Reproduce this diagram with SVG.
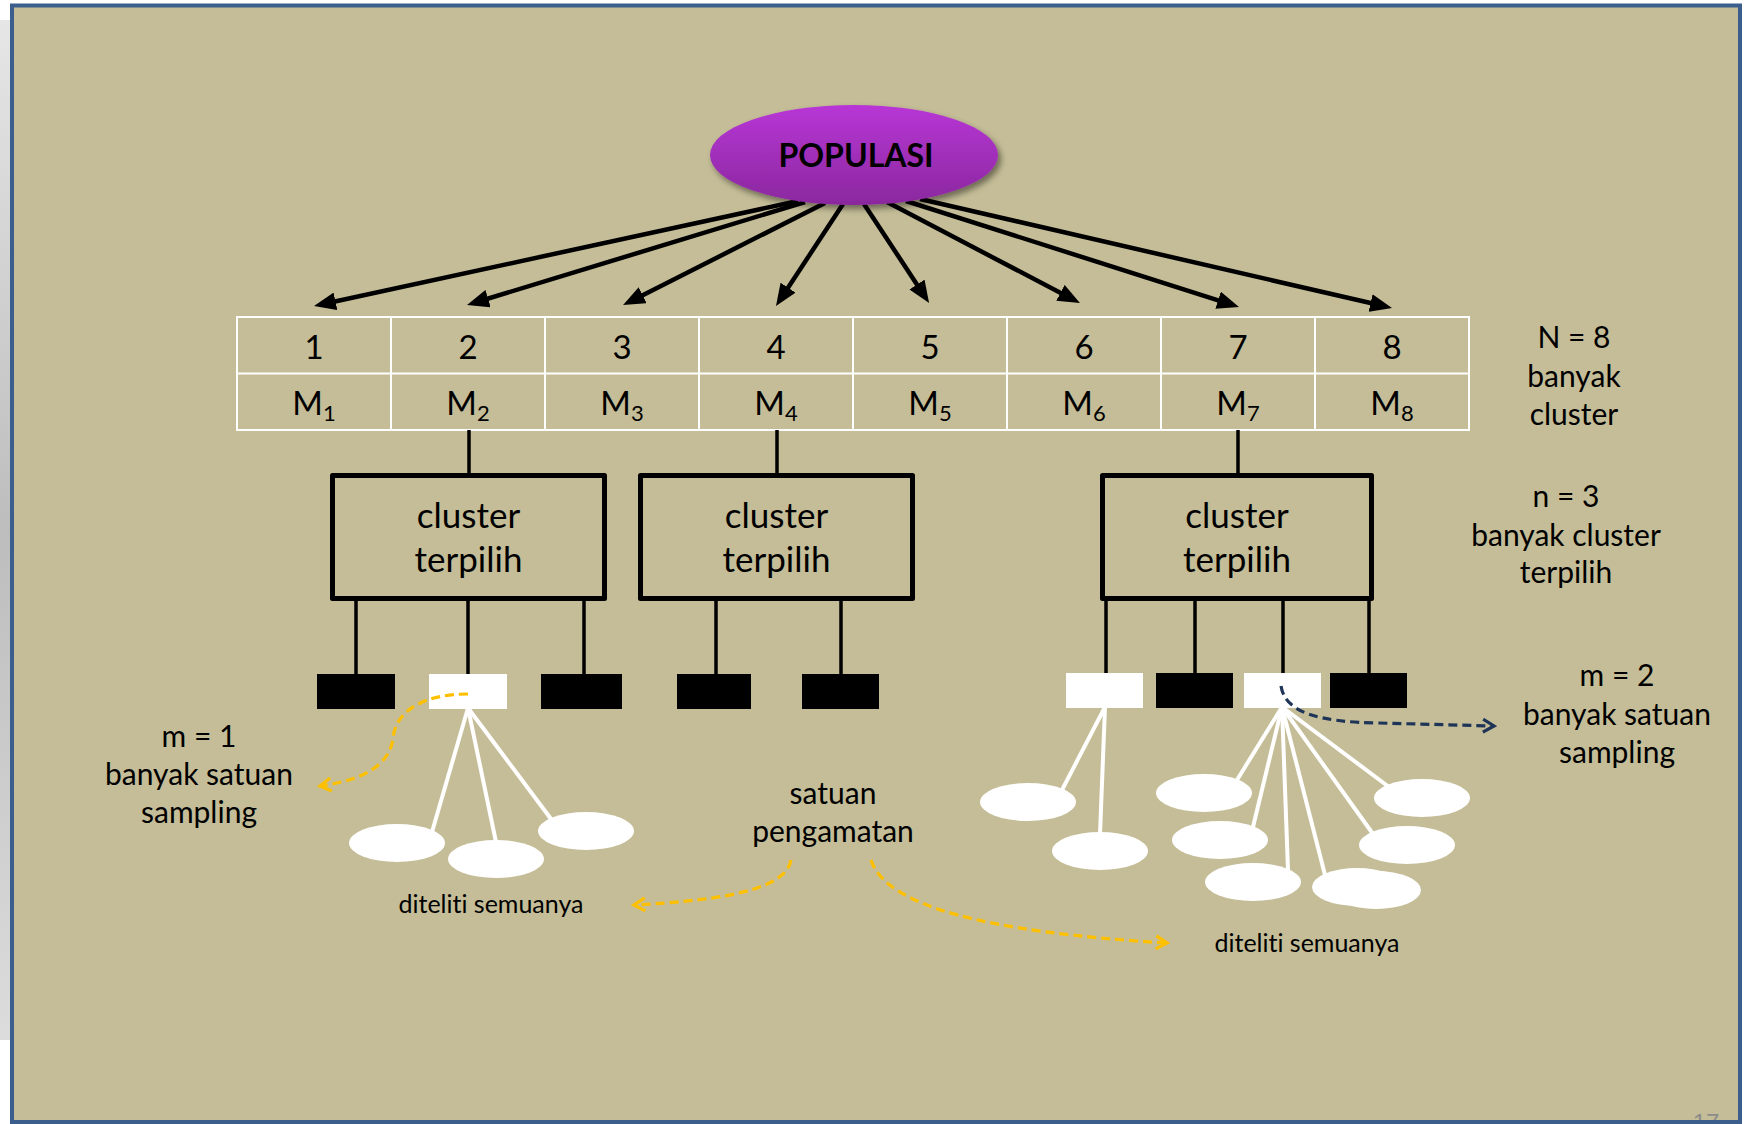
<svg xmlns="http://www.w3.org/2000/svg" width="1750" height="1124" viewBox="0 0 1750 1124">
  <defs>
    <linearGradient id="purple" x1="0" y1="0" x2="0" y2="1">
      <stop offset="0" stop-color="#B836D6"/>
      <stop offset="1" stop-color="#8A289E"/>
    </linearGradient>
    <linearGradient id="side" x1="0" y1="0" x2="0" y2="1">
      <stop offset="0" stop-color="#e6e6e6"/>
      <stop offset="0.5" stop-color="#bdbdbd"/>
      <stop offset="1" stop-color="#dcdcdc"/>
    </linearGradient>
    <filter id="shadow" x="-20%" y="-20%" width="140%" height="150%">
      <feDropShadow dx="3" dy="4" stdDeviation="3" flood-color="#000" flood-opacity="0.45"/>
    </filter>
    <marker id="ah" viewBox="0 0 22 18" refX="10" refY="9" markerWidth="22" markerHeight="18" markerUnits="userSpaceOnUse" orient="auto">
      <path d="M0,0 L22,9 L0,18 z" fill="#000"/>
    </marker>
    <marker id="ahOrange" viewBox="0 0 16 16" refX="13" refY="8" markerWidth="16" markerHeight="16" markerUnits="userSpaceOnUse" orient="auto">
      <path d="M2,1.5 L13,8 L2,14.5" fill="none" stroke="#FFC000" stroke-width="3.2"/>
    </marker>
    <marker id="ahNavy" viewBox="0 0 16 16" refX="13" refY="8" markerWidth="16" markerHeight="16" markerUnits="userSpaceOnUse" orient="auto">
      <path d="M2,1.5 L13,8 L2,14.5" fill="none" stroke="#1F3558" stroke-width="3.2"/>
    </marker>
    <style>
      .t { font-family: Lato, "Open Sans", "Liberation Sans", sans-serif; fill: #000; text-anchor: middle; font-variant-ligatures: none; }
      .cell { font-size: 33px; }
      .sub { font-size: 22px; }
      .side { font-size: 30px; }
      .box { font-size: 35px; }
      .small { font-size: 25px; }
      .mid { font-size: 30px; }
      .cbox { fill: none; stroke: #000; stroke-width: 5; stroke-linejoin: round; }
      .sqB { fill: #000; }
      .sqW { fill: #fff; }
      .obs { fill: #fff; }
      .arrow { stroke: #000; stroke-width: 4.5; fill: none; }
      .link { stroke: #000; stroke-width: 3.5; fill: none; }
      .wlink { stroke: #fff; stroke-width: 4; fill: none; }
      .dashO { stroke: #FFC000; stroke-width: 3.2; fill: none; stroke-dasharray: 9 5; }
      .dashN { stroke: #1F3558; stroke-width: 3.2; fill: none; stroke-dasharray: 9 5; }
      .grid { stroke: #fff; stroke-width: 2; fill: none; }
    </style>
  </defs>

  <!-- page background -->
  <rect x="0" y="0" width="1750" height="1124" fill="#ffffff"/>
  <rect x="0" y="20" width="11" height="1020" fill="url(#side)"/>
  <rect x="12" y="5.5" width="1728" height="1116.5" fill="#C4BD97"/>

  <!-- table of clusters -->
  <g id="table">
    <rect class="grid" x="237" y="317" width="1232" height="113"/>
    <line class="grid" x1="237" y1="373.5" x2="1469" y2="373.5" stroke-width="2.5"/>
    <line class="grid" x1="391" y1="317" x2="391" y2="430"/>
    <line class="grid" x1="545" y1="317" x2="545" y2="430"/>
    <line class="grid" x1="699" y1="317" x2="699" y2="430"/>
    <line class="grid" x1="853" y1="317" x2="853" y2="430"/>
    <line class="grid" x1="1007" y1="317" x2="1007" y2="430"/>
    <line class="grid" x1="1161" y1="317" x2="1161" y2="430"/>
    <line class="grid" x1="1315" y1="317" x2="1315" y2="430"/>
    <text class="t cell" x="314" y="359">1</text>
    <text class="t cell" x="468" y="359">2</text>
    <text class="t cell" x="622" y="359">3</text>
    <text class="t cell" x="776" y="359">4</text>
    <text class="t cell" x="930" y="359">5</text>
    <text class="t cell" x="1084" y="359">6</text>
    <text class="t cell" x="1238" y="359">7</text>
    <text class="t cell" x="1392" y="359">8</text>
    <text class="t cell" x="314" y="415">M<tspan class="sub" dy="6">1</tspan></text>
    <text class="t cell" x="468" y="415">M<tspan class="sub" dy="6">2</tspan></text>
    <text class="t cell" x="622" y="415">M<tspan class="sub" dy="6">3</tspan></text>
    <text class="t cell" x="776" y="415">M<tspan class="sub" dy="6">4</tspan></text>
    <text class="t cell" x="930" y="415">M<tspan class="sub" dy="6">5</tspan></text>
    <text class="t cell" x="1084" y="415">M<tspan class="sub" dy="6">6</tspan></text>
    <text class="t cell" x="1238" y="415">M<tspan class="sub" dy="6">7</tspan></text>
    <text class="t cell" x="1392" y="415">M<tspan class="sub" dy="6">8</tspan></text>
  </g>

  <!-- side labels -->
  <g id="label-N">
    <text class="t side" x="1574" y="348">N = 8</text>
    <text class="t side" x="1574" y="387">banyak</text>
    <text class="t side" x="1574" y="425">cluster</text>
  </g>
  <g id="label-n">
    <text class="t side" x="1566" y="507">n = 3</text>
    <text class="t side" x="1566" y="546">banyak cluster</text>
    <text class="t side" x="1566" y="583">terpilih</text>
  </g>
  <g id="label-m2">
    <text class="t side" x="1617" y="686">m = 2</text>
    <text class="t side" x="1617" y="725">banyak satuan</text>
    <text class="t side" x="1617" y="763">sampling</text>
  </g>
  <g id="label-m1">
    <text class="t side" x="199" y="747">m = 1</text>
    <text class="t side" x="199" y="785">banyak satuan</text>
    <text class="t side" x="199" y="823">sampling</text>
  </g>
  <g id="label-satuan">
    <text class="t mid" x="833" y="804">satuan</text>
    <text class="t mid" x="833" y="842">pengamatan</text>
  </g>
  <g id="label-diteliti-1">
    <text class="t small" x="491" y="913">diteliti semuanya</text>
  </g>
  <g id="label-diteliti-2">
    <text class="t small" x="1307" y="952">diteliti semuanya</text>
  </g>

  <!-- cluster boxes -->
  <g id="cluster-2">
    <rect class="cbox" x="332.5" y="475.5" width="272" height="123"/>
    <text class="t box" x="468.5" y="528">cluster</text>
    <text class="t box" x="468.5" y="572">terpilih</text>
  </g>
  <g id="cluster-4">
    <rect class="cbox" x="640.5" y="475.5" width="272" height="123"/>
    <text class="t box" x="776.5" y="528">cluster</text>
    <text class="t box" x="776.5" y="572">terpilih</text>
  </g>
  <g id="cluster-7">
    <rect class="cbox" x="1102.5" y="475.5" width="269" height="123"/>
    <text class="t box" x="1237" y="528">cluster</text>
    <text class="t box" x="1237" y="572">terpilih</text>
  </g>

  <!-- sampling units -->
  <g id="units-2">
    <rect class="sqB" x="317" y="674" width="78" height="35"/>
    <rect class="sqW" x="429" y="674" width="78" height="35"/>
    <rect class="sqB" x="541" y="674" width="81" height="35"/>
  </g>
  <g id="units-4">
    <rect class="sqB" x="677" y="674" width="74" height="35"/>
    <rect class="sqB" x="802" y="674" width="77" height="35"/>
  </g>
  <g id="units-7">
    <rect class="sqW" x="1066" y="673" width="77" height="35"/>
    <rect class="sqB" x="1156" y="673" width="77" height="35"/>
    <rect class="sqW" x="1244" y="673" width="77" height="35"/>
    <rect class="sqB" x="1330" y="673" width="77" height="35"/>
  </g>

  <!-- connectors -->
  <g id="connectors">
    <line class="arrow" x1="798" y1="201" x2="325.7" y2="303.5" marker-end="url(#ah)"/>
    <line class="arrow" x1="805" y1="202" x2="478.5" y2="301.5" marker-end="url(#ah)"/>
    <line class="arrow" x1="825" y1="203" x2="633.8" y2="299.7" marker-end="url(#ah)"/>
    <line class="arrow" x1="843" y1="204" x2="782.6" y2="296" marker-end="url(#ah)"/>
    <line class="arrow" x1="864" y1="204" x2="922.5" y2="292.9" marker-end="url(#ah)"/>
    <line class="arrow" x1="887" y1="202" x2="1069.3" y2="297.5" marker-end="url(#ah)"/>
    <line class="arrow" x1="906" y1="201" x2="1227.6" y2="303.3" marker-end="url(#ah)"/>
    <line class="arrow" x1="920" y1="199" x2="1380.3" y2="305.3" marker-end="url(#ah)"/>

    <line class="link" x1="469" y1="430" x2="469" y2="475"/>
    <line class="link" x1="777" y1="430" x2="777" y2="475"/>
    <line class="link" x1="1238" y1="430" x2="1238" y2="475"/>

    <line class="link" x1="356" y1="600" x2="356" y2="674"/>
    <line class="link" x1="468" y1="600" x2="468" y2="674"/>
    <line class="link" x1="584" y1="600" x2="584" y2="674"/>
    <line class="link" x1="716" y1="600" x2="716" y2="674"/>
    <line class="link" x1="841" y1="600" x2="841" y2="674"/>
    <line class="link" x1="1106" y1="600" x2="1106" y2="673"/>
    <line class="link" x1="1195" y1="600" x2="1195" y2="673"/>
    <line class="link" x1="1283" y1="600" x2="1283" y2="673"/>
    <line class="link" x1="1369" y1="600" x2="1369" y2="673"/>

    <line class="wlink" x1="468" y1="708" x2="432" y2="832"/>
    <line class="wlink" x1="468" y1="708" x2="496" y2="842"/>
    <line class="wlink" x1="468" y1="708" x2="551" y2="819"/>

    <line class="wlink" x1="1105" y1="707" x2="1062" y2="790"/>
    <line class="wlink" x1="1105" y1="707" x2="1100" y2="834"/>
    <line class="wlink" x1="1282" y1="707" x2="1237" y2="780"/>
    <line class="wlink" x1="1282" y1="707" x2="1253" y2="827"/>
    <line class="wlink" x1="1282" y1="707" x2="1288" y2="870"/>
    <line class="wlink" x1="1282" y1="707" x2="1325" y2="875"/>
    <line class="wlink" x1="1282" y1="707" x2="1373" y2="834"/>
    <line class="wlink" x1="1282" y1="707" x2="1389" y2="787"/>

    <path class="dashO" d="M468,694 C425,694 396,710 393,738 C390,764 365,780 320,786" marker-end="url(#ahOrange)"/>
    <path class="dashO" d="M791,860 C786,888 730,900 634,905" marker-end="url(#ahOrange)"/>
    <path class="dashO" d="M871,860 C886,906 985,932 1167,943" marker-end="url(#ahOrange)"/>
    <path class="dashN" d="M1281,686 C1285,712 1317,722 1378,723 L1494,726" marker-end="url(#ahNavy)"/>
  </g>

  <!-- observation units -->
  <g id="obs-2">
    <ellipse class="obs" cx="397" cy="843" rx="48" ry="19"/>
    <ellipse class="obs" cx="496" cy="859" rx="48" ry="19"/>
    <ellipse class="obs" cx="586" cy="831" rx="48" ry="19"/>
  </g>
  <g id="obs-7a">
    <ellipse class="obs" cx="1028" cy="802" rx="48" ry="19"/>
    <ellipse class="obs" cx="1100" cy="851" rx="48" ry="19"/>
  </g>
  <g id="obs-7b">
    <ellipse class="obs" cx="1204" cy="793" rx="48" ry="19"/>
    <ellipse class="obs" cx="1220" cy="840" rx="48" ry="19"/>
    <ellipse class="obs" cx="1253" cy="882" rx="48" ry="19"/>
    <ellipse class="obs" cx="1357" cy="887" rx="45" ry="19"/>
    <ellipse class="obs" cx="1376" cy="890" rx="45" ry="19"/>
    <ellipse class="obs" cx="1407" cy="845" rx="48" ry="19"/>
    <ellipse class="obs" cx="1422" cy="798" rx="48" ry="19"/>
  </g>

  <!-- POPULASI -->
  <g id="populasi">
    <ellipse cx="854" cy="155" rx="144" ry="50" fill="url(#purple)" filter="url(#shadow)"/>
    <text class="t" x="856" y="167" font-size="32" font-weight="bold">POPULASI</text>
  </g>

  <!-- page number and frame -->
  <text x="1706" y="1131" font-family="'Liberation Sans', sans-serif" font-size="24" fill="#8c8c8c" text-anchor="middle">17</text>
  <rect x="12" y="5.5" width="1728" height="1116.5" fill="none" stroke="#3B5E8C" stroke-width="4"/>
</svg>
